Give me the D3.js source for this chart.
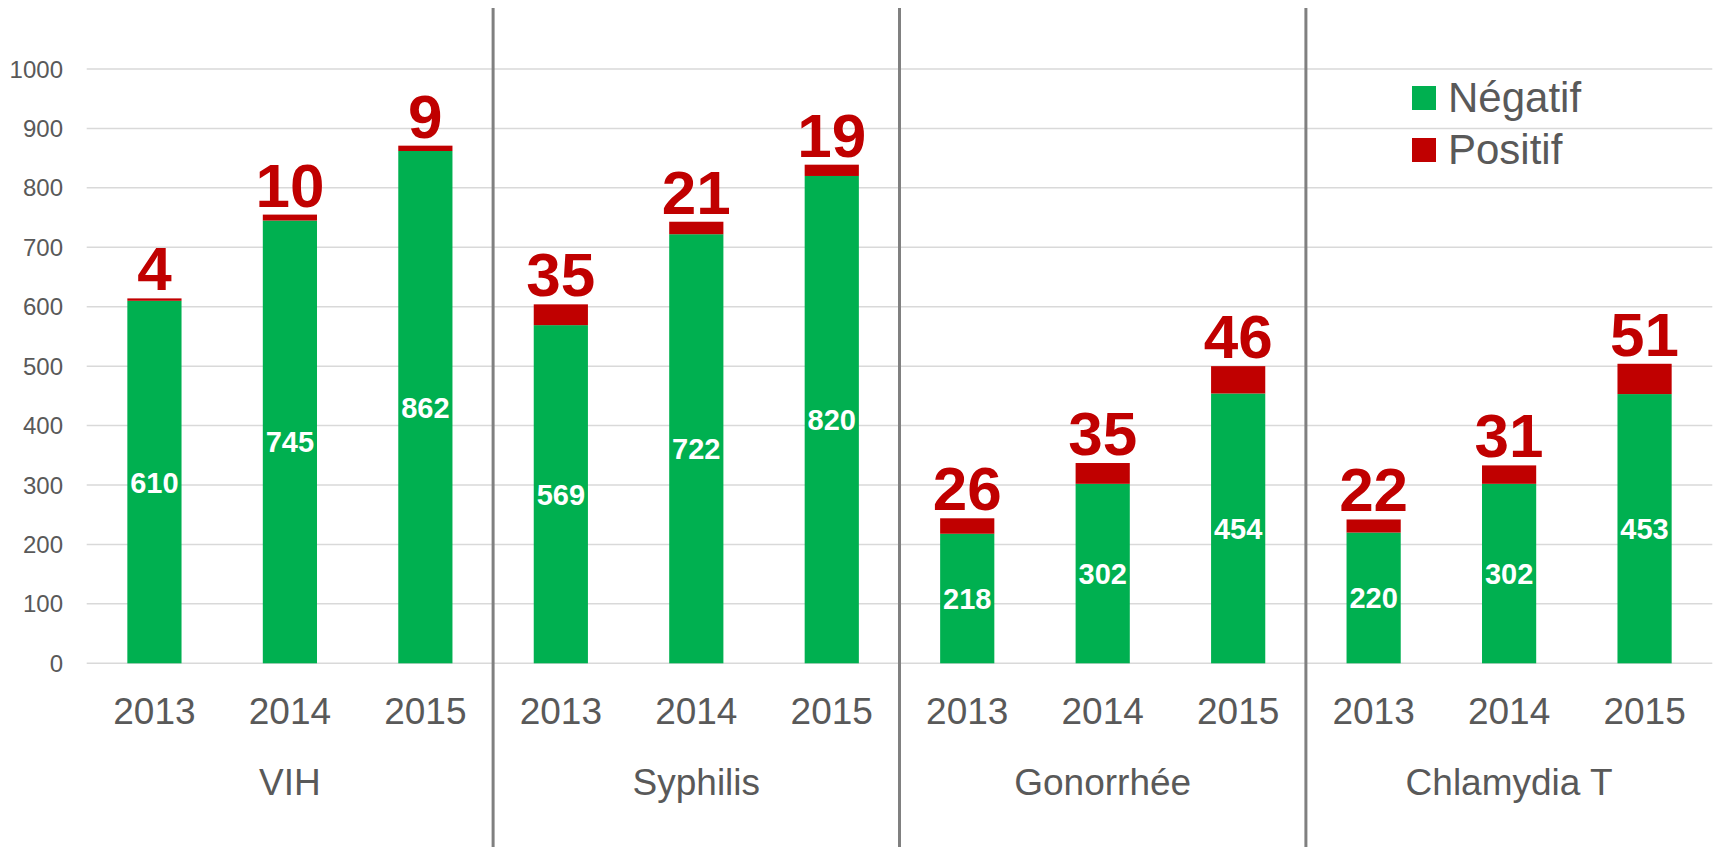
<!DOCTYPE html>
<html>
<head>
<meta charset="utf-8">
<title>Dépistage</title>
<script src="https://d3js.org/d3.v7.min.js"></script>
<style>
  body { margin: 0; background: #fff; }
  text { font-family: "Liberation Sans", Arial, sans-serif; }
  .tick-label { fill: #595959; font-size: 24px; }
  .cat-label { fill: #595959; font-size: 37px; }
  .legend-text { fill: #595959; font-size: 42px; }
  .neg-label { fill: #fff; font-size: 29px; font-weight: bold; }
  .pos-label { fill: #C00000; font-size: 62px; font-weight: bold; }
</style>
</head>
<body>
<svg width="1717" height="847"></svg>
<script>
// data
var groups = ["VIH", "Syphilis", "Gonorrhée", "Chlamydia T"];
var years = ["2013", "2014", "2015"];
var negatif = [610, 745, 862, 569, 722, 820, 218, 302, 454, 220, 302, 453];
var positif = [4, 10, 9, 35, 21, 19, 26, 35, 46, 22, 31, 51];
var yTicks = [0, 100, 200, 300, 400, 500, 600, 700, 800, 900, 1000];
var seriesNames = ["Négatif", "Positif"];
var colours = ["#00B050", "#C00000"];

var svg = d3.select("svg"),
    plotLeft = 86.7, plotRight = 1712.3,
    plotTop = 69, plotBottom = 663.3;

// build rows: one per group/year
var rows = [];
groups.forEach(function(g, gi) {
    years.forEach(function(y, yi) {
        var i = gi * years.length + yi;
        rows.push({key: g + "|" + y, group: g, year: y, neg: negatif[i], pos: positif[i]});
    });
});

var x = d3.scaleBand()
    .domain(rows.map(function(d) { return d.key; }))
    .range([plotLeft, plotRight])
    .paddingInner(0.6)
    .paddingOuter(0.3);

var y = d3.scaleLinear().domain([0, 1000]).range([plotBottom, plotTop]);

// gridlines
svg.append("g").selectAll("line")
    .data(yTicks)
    .enter().append("line")
    .attr("x1", plotLeft).attr("x2", plotRight)
    .attr("y1", function(d) { return y(d); })
    .attr("y2", function(d) { return y(d); })
    .attr("stroke", "#D9D9D9")
    .attr("stroke-width", 1.5);

// y tick labels
svg.append("g").selectAll("text")
    .data(yTicks)
    .enter().append("text")
    .attr("class", "tick-label")
    .attr("x", 63)
    .attr("y", function(d) { return y(d) + 8.5; })
    .attr("text-anchor", "end")
    .text(function(d) { return d; });

// separators between groups
var step = x.step();
svg.append("g").selectAll("line")
    .data(groups.slice(1))
    .enter().append("line")
    .attr("x1", function(d, i) { return plotLeft + (i + 1) * years.length * step; })
    .attr("x2", function(d, i) { return plotLeft + (i + 1) * years.length * step; })
    .attr("y1", 8).attr("y2", 847)
    .attr("stroke", "#808080")
    .attr("stroke-width", 3);

// stacked bars
var stack = d3.stack().keys(["neg", "pos"])(rows);
svg.append("g").selectAll("g")
    .data(stack)
    .enter().append("g")
    .attr("fill", function(d, i) { return colours[i]; })
    .selectAll("rect")
    .data(function(d) { return d; })
    .enter().append("rect")
    .attr("x", function(d) { return x(d.data.key); })
    .attr("width", x.bandwidth())
    .attr("y", function(d) { return y(d[1]); })
    .attr("height", function(d) { return y(d[0]) - y(d[1]); });

// negatif labels (centered in green segment)
svg.append("g").selectAll("text")
    .data(rows)
    .enter().append("text")
    .attr("class", "neg-label")
    .attr("text-anchor", "middle")
    .attr("x", function(d) { return x(d.key) + x.bandwidth() / 2; })
    .attr("y", function(d) { return y(d.neg / 2) + 10.5; })
    .text(function(d) { return d.neg; });

// positif labels above bar
svg.append("g").selectAll("text")
    .data(rows)
    .enter().append("text")
    .attr("class", "pos-label")
    .attr("text-anchor", "middle")
    .attr("x", function(d) { return x(d.key) + x.bandwidth() / 2; })
    .attr("y", function(d) { return y(d.neg + d.pos) - 8; })
    .text(function(d) { return d.pos; });

// year labels
svg.append("g").selectAll("text")
    .data(rows)
    .enter().append("text")
    .attr("class", "cat-label")
    .attr("text-anchor", "middle")
    .attr("x", function(d) { return x(d.key) + x.bandwidth() / 2; })
    .attr("y", 724)
    .text(function(d) { return d.year; });

// group labels
svg.append("g").selectAll("text")
    .data(groups)
    .enter().append("text")
    .attr("class", "cat-label")
    .attr("text-anchor", "middle")
    .attr("x", function(d) {
        var mid = x(d + "|" + years[1]);
        return mid + x.bandwidth() / 2;
    })
    .attr("y", 795)
    .text(function(d) { return d; });

// legend
var legend = svg.append("g").selectAll("g")
    .data(seriesNames)
    .enter().append("g")
    .attr("transform", function(d, i) { return "translate(1412," + (86 + i * 52) + ")"; });

legend.append("rect")
    .attr("width", 24).attr("height", 24)
    .attr("fill", function(d, i) { return colours[i]; });

legend.append("text")
    .attr("class", "legend-text")
    .attr("x", 36)
    .attr("y", 26)
    .text(function(d) { return d; });
</script>
</body>
</html>
